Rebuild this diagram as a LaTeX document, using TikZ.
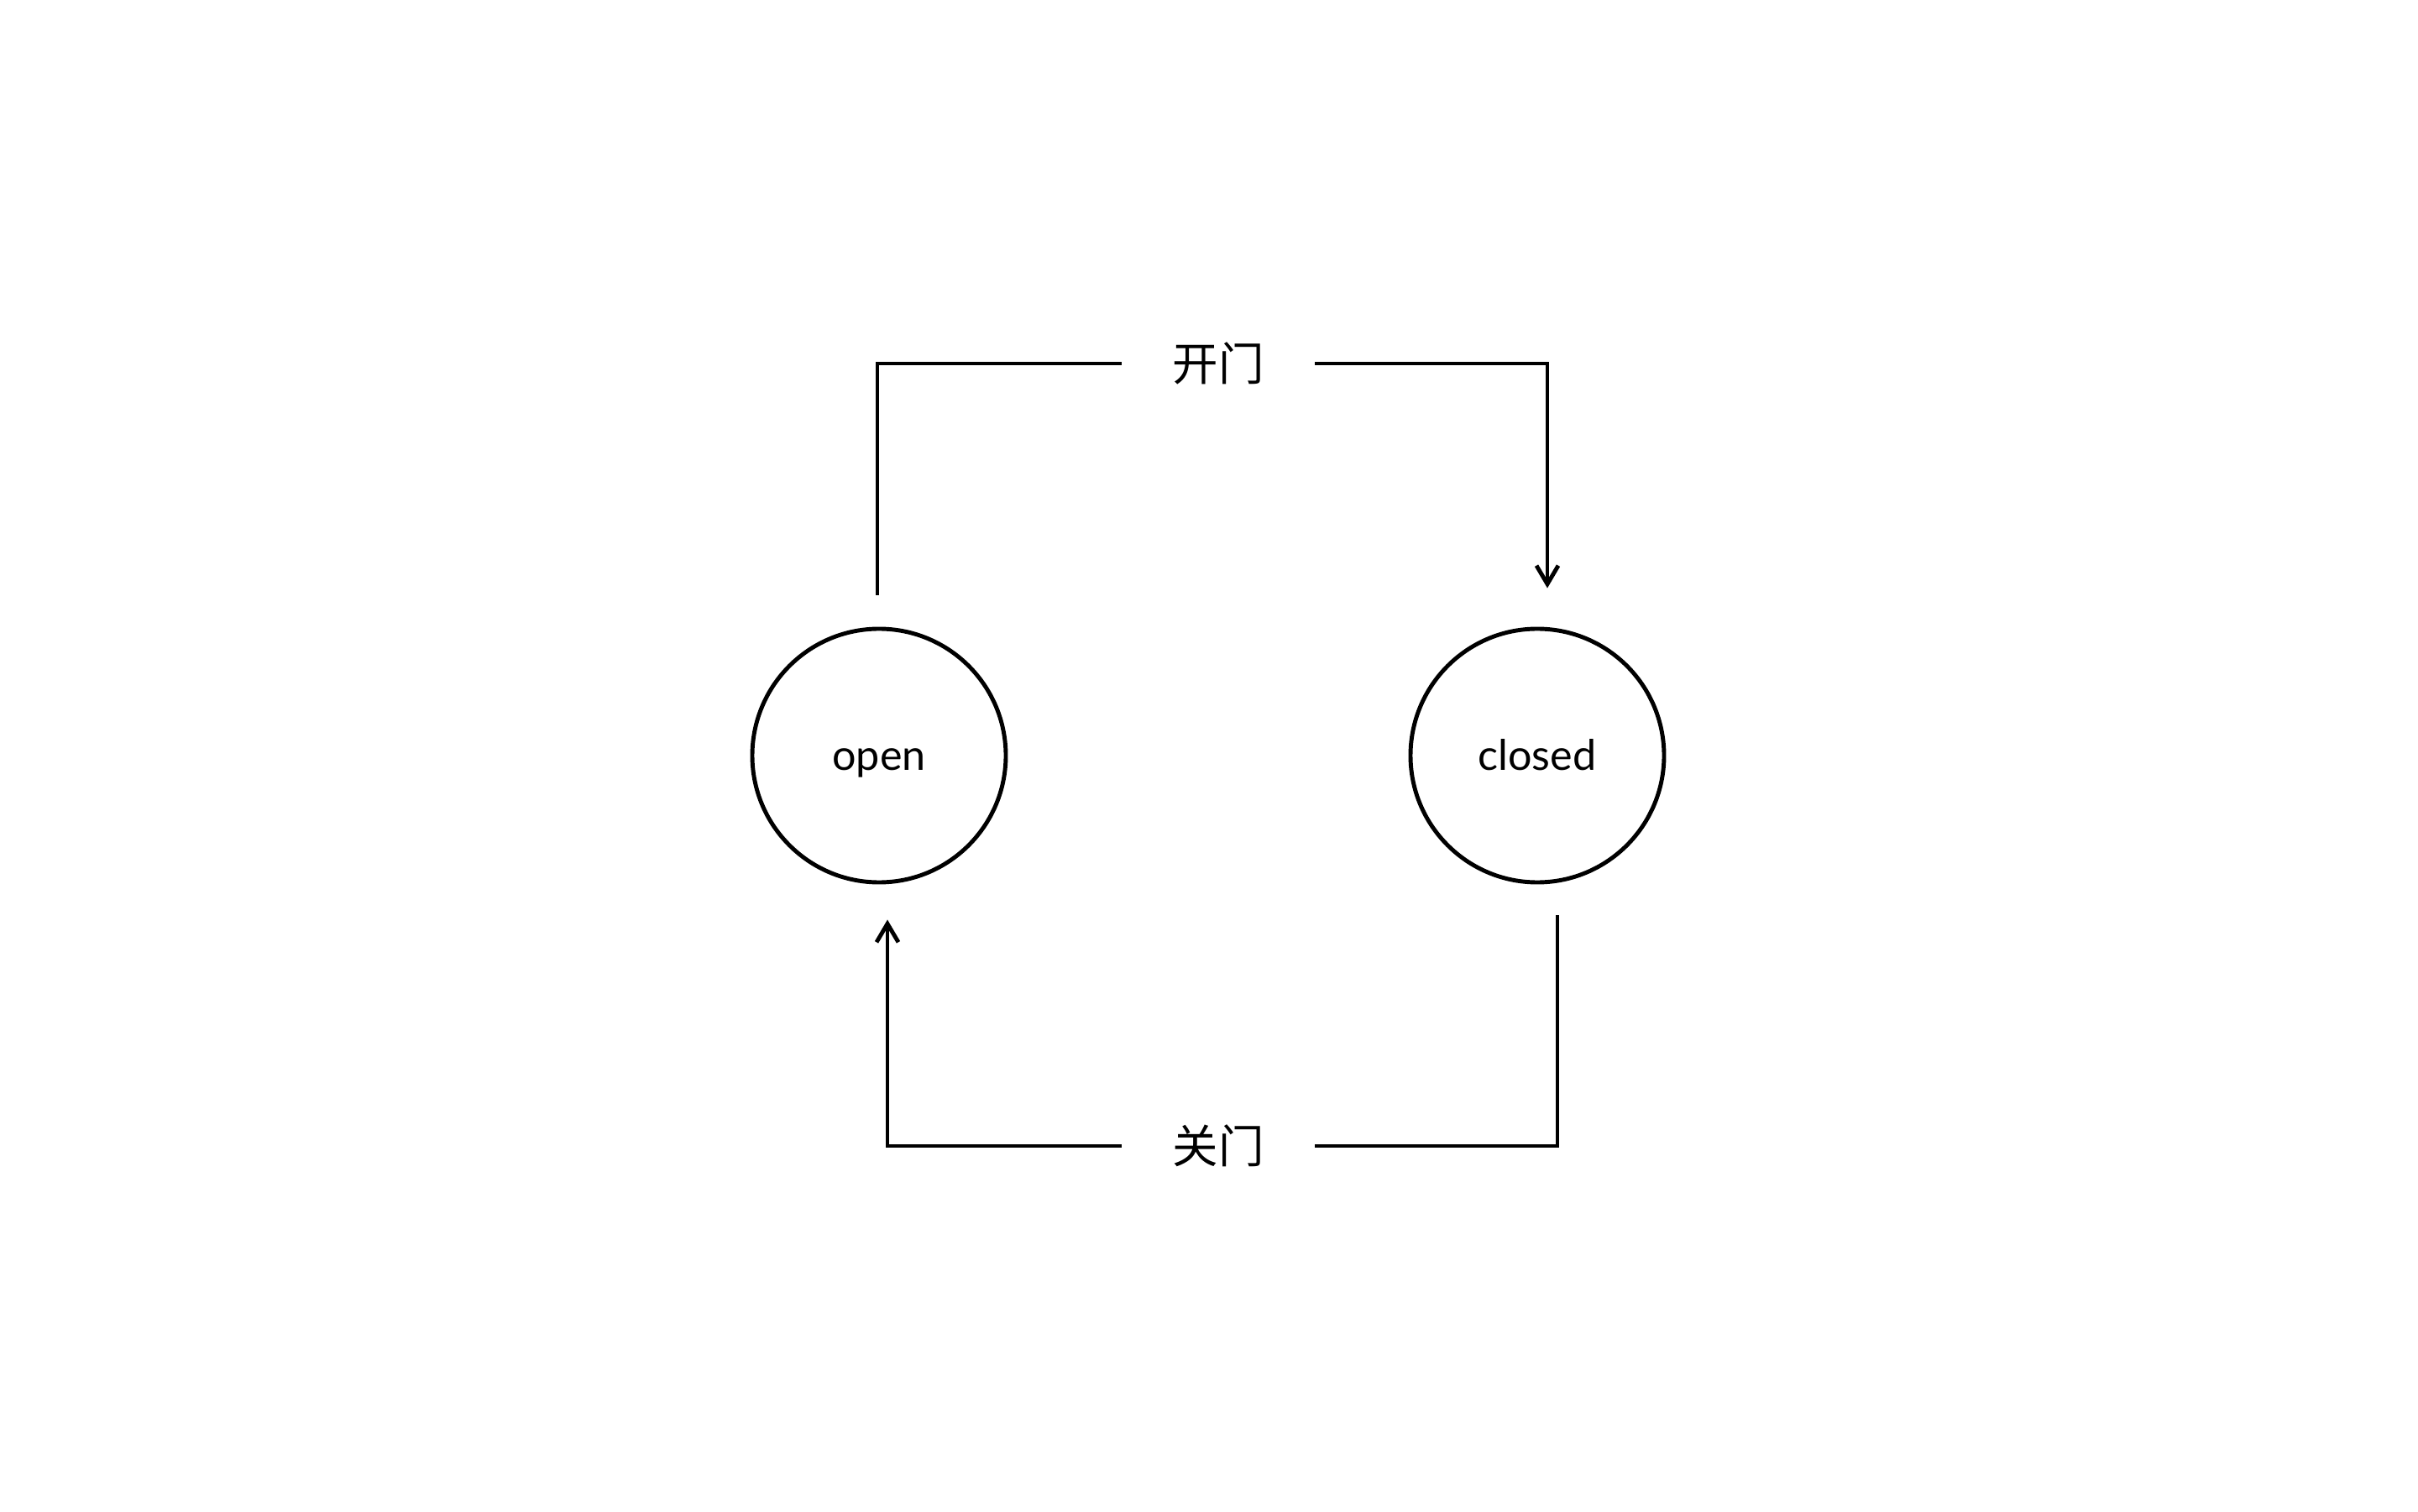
\documentclass[tikz,border=0pt]{standalone}
\usepackage{fontspec}
\setmainfont{Lato}
\newfontfamily\cjk{Noto Sans CJK SC}
\usetikzlibrary{arrows.meta}
\begin{document}
\begin{tikzpicture}[
    state/.style={circle, draw, line width=1.4pt, minimum size=3.02cm, inner sep=0pt,
      text height=0.36cm, text depth=0cm, font=\fontsize{14.3}{16}\selectfont},
    trans/.style={inner xsep=0.6cm, inner ysep=0pt, font=\cjk\fontsize{15.5}{17}\selectfont},
    conn/.style={line width=1.4pt},
    >={Straight Barb[length=2.2mm,width=2.6mm]}
  ]
  \useasboundingbox (0,0) rectangle (28.8,18);
  % States
  \node[state] (open) at (10.47,9.00) {open};
  \node[state] (closed) at (18.31,9.00) {closed};
  % Transition labels
  \node[trans] (kai) at (14.51,13.67) {开门};
  \node[trans] (guan) at (14.51,4.35) {关门};
  % Open the door
  \draw[conn] ([xshift=-0.02cm,yshift=0.38cm]open.north) |- (kai.west);
  \draw[conn,->] (kai.east) -| ([xshift=0.12cm,yshift=0.46cm]closed.north);
  % Close the door
  \draw[conn] ([xshift=0.24cm,yshift=-0.37cm]closed.south) |- (guan.east);
  \draw[conn,->] (guan.west) -| ([xshift=0.10cm,yshift=-0.42cm]open.south);
\end{tikzpicture}
\end{document}
